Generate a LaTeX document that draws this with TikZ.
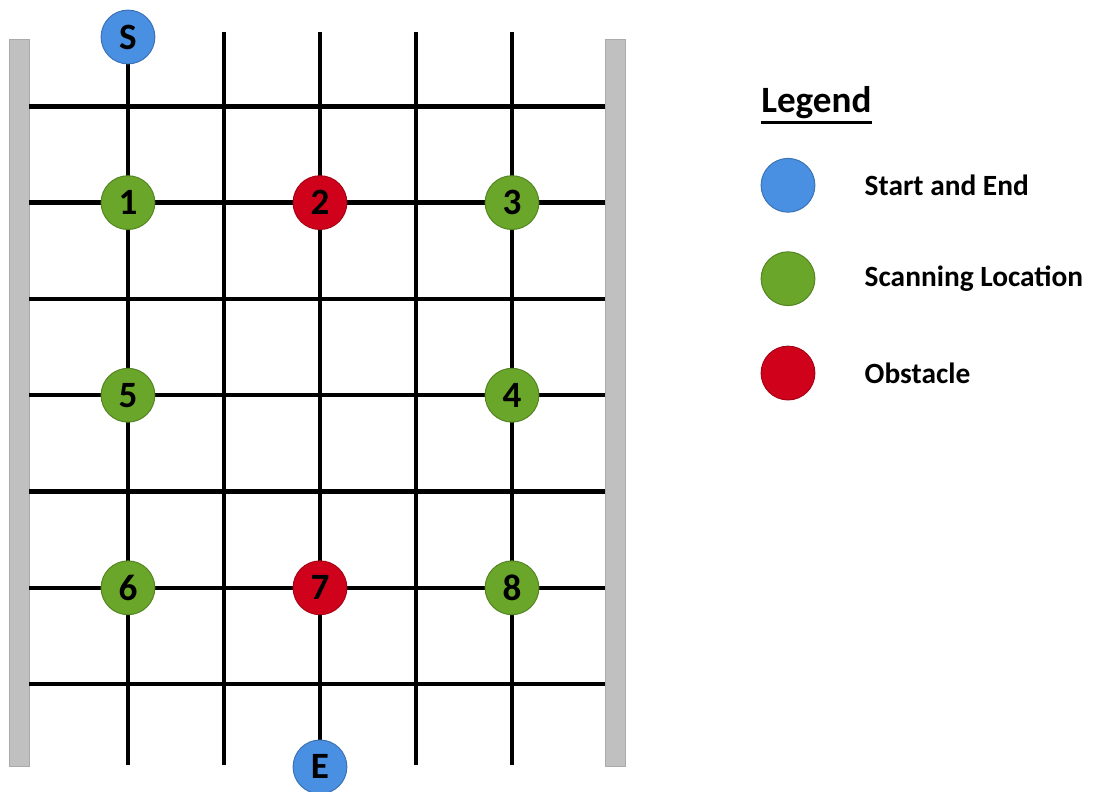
\documentclass[tikz,border=0pt]{standalone}
\usepackage{fontspec}
\setmainfont{Carlito}
\usepackage{xcolor}
\usepackage{tikz}
\usetikzlibrary{positioning}
\definecolor{startblue}{RGB}{74,144,226}
\definecolor{scangreen}{RGB}{106,166,42}
\definecolor{obstred}{RGB}{208,2,27}
\definecolor{wallgray}{RGB}{192,192,192}
\definecolor{walledge}{RGB}{170,170,170}
\tikzset{
  spot/.style={circle, minimum size=0.56cm, inner sep=0pt, font=\fontsize{11}{11}\selectfont\bfseries, line width=0.3pt},
  startspot/.style={spot, fill=startblue, draw=startblue!80!black},
  scanspot/.style={spot, fill=scangreen, draw=scangreen!80!black},
  obstspot/.style={spot, fill=obstred, draw=obstred!80!black},
  wall/.style={fill=wallgray, draw=walledge, line width=0.3pt},
  gridline/.style={line width=1.3pt, color=black},
  legtext/.style={anchor=west, font=\fontsize{8.7}{10}\selectfont\bfseries}
}
\begin{document}
\begin{tikzpicture}[x=1cm, y=-1.003cm]
  \useasboundingbox (-0.333,-0.104) rectangle (11.052,8.118);

  % Walls
  \draw[wall] (-0.23,0.31) rectangle (-0.03,7.86);
  \draw[wall] (5.97,0.31) rectangle (6.18,7.86);

  % Grid
  \draw[gridline] (1,0.23) -- (1,7.84);
  \draw[gridline] (2,0.23) -- (2,7.84);
  \draw[gridline] (3,0.23) -- (3,7.84);
  \draw[gridline] (4,0.23) -- (4,7.84);
  \draw[gridline] (5,0.23) -- (5,7.84);
  \draw[gridline] (-0.03,1) -- (5.97,1);
  \draw[gridline] (-0.03,2) -- (5.97,2);
  \draw[gridline] (-0.03,3) -- (5.97,3);
  \draw[gridline] (-0.03,4) -- (5.97,4);
  \draw[gridline] (-0.03,5) -- (5.97,5);
  \draw[gridline] (-0.03,6) -- (5.97,6);
  \draw[gridline] (-0.03,7) -- (5.97,7);

  % Locations
  \node[startspot] (start) at (1,0.28) {S};
  \node[scanspot] (p1) at (1,2) {1};
  \node[obstspot] (p2) at (3,2) {2};
  \node[scanspot] (p3) at (5,2) {3};
  \node[scanspot] (p4) at (5,4) {4};
  \node[scanspot] (p5) at (1,4) {5};
  \node[scanspot] (p6) at (1,6) {6};
  \node[obstspot] (p7) at (3,6) {7};
  \node[scanspot] (p8) at (5,6) {8};
  \node[startspot] (end) at (3,7.86) {E};

  % Legend
  \node[anchor=west, inner sep=0pt, font=\fontsize{11}{12}\selectfont\bfseries] (legtitle) at (7.59,0.96) {Legend};
  \draw[line width=0.7pt] ([yshift=-3pt]legtitle.base west) -- ([yshift=-3pt]legtitle.base east);
  \node[startspot] (legstart) at (7.875,1.82) {};
  \node[scanspot] (legscan) at (7.875,2.79) {};
  \node[obstspot] (legobst) at (7.875,3.77) {};
  \node[legtext] at (8.55,1.82) {Start and End};
  \node[legtext] at (8.55,2.79) {Scanning Location};
  \node[legtext] at (8.55,3.77) {Obstacle};
\end{tikzpicture}
\end{document}
